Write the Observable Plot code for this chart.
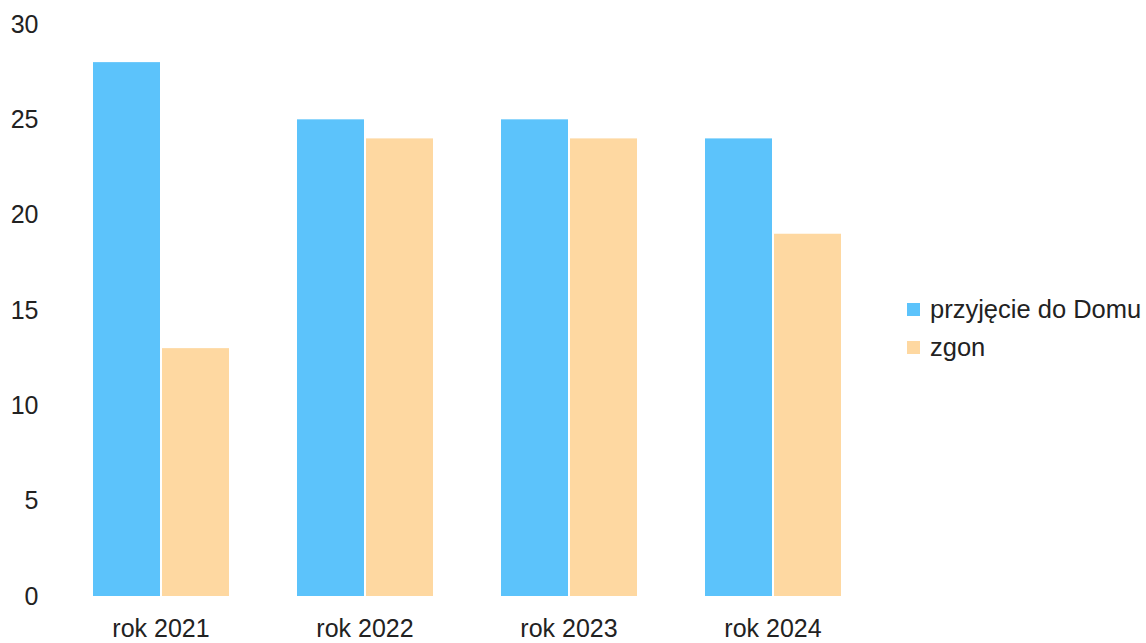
<!DOCTYPE html>
<html>
<head>
<meta charset="utf-8">
<script src="https://cdn.jsdelivr.net/npm/d3@7"></script>
<script src="https://cdn.jsdelivr.net/npm/@observablehq/plot@0.6"></script>
<style>
  html, body { margin: 0; padding: 0; background: #fff; }
  #wrap { position: relative; width: 1146px; height: 643px; font-family: "Liberation Sans", Arial, sans-serif; }
  #legend { position: absolute; left: 907px; top: 290px; font-size: 25.5px; color: #222; }
  .item { display: flex; align-items: center; height: 38px; }
  .sw { width: 13px; height: 13px; margin-right: 10px; }
</style>
</head>
<body>
<div id="wrap"><div id="chart"></div><div id="legend"></div></div>
<script>
const years = ["rok 2021", "rok 2022", "rok 2023", "rok 2024"];
const seriesNames = ["przyjęcie do Domu", "zgon"];
const admissions = [28, 25, 25, 24];
const deaths = [13, 24, 24, 19];
const colors = ["#5cc3fb", "#fed8a1"];

const data = [];
years.forEach((y, i) => {
  data.push({year: y, series: seriesNames[0], value: admissions[i]});
  data.push({year: y, series: seriesNames[1], value: deaths[i]});
});

const chart = Plot.plot({
  width: 1146,
  height: 643,
  marginTop: 24,
  marginBottom: 47,
  marginLeft: 58,
  marginRight: 271,
  style: {fontFamily: "Liberation Sans, Arial, sans-serif", fontSize: "25px", color: "#222", background: "#fff"},
  fx: {domain: years, paddingInner: 0.33, paddingOuter: 0.165, label: null, axis: "bottom", tickSize: 0, tickPadding: 23},
  x: {domain: seriesNames, axis: null, paddingInner: 0.03, paddingOuter: 0},
  y: {domain: [0, 30], ticks: [0, 5, 10, 15, 20, 25, 30], label: null, tickSize: 0, tickPadding: 54},
  color: {domain: seriesNames, range: colors},
  marks: [
    Plot.barY(data, {fx: "year", x: "series", y: "value", fill: "series"})
  ]
});
document.getElementById("chart").appendChild(chart);

const legend = document.getElementById("legend");
seriesNames.forEach((s, i) => {
  const item = document.createElement("div");
  item.className = "item";
  const sw = document.createElement("div");
  sw.className = "sw";
  sw.style.background = colors[i];
  const t = document.createElement("span");
  t.textContent = s;
  item.appendChild(sw);
  item.appendChild(t);
  legend.appendChild(item);
});
</script>
</body>
</html>
